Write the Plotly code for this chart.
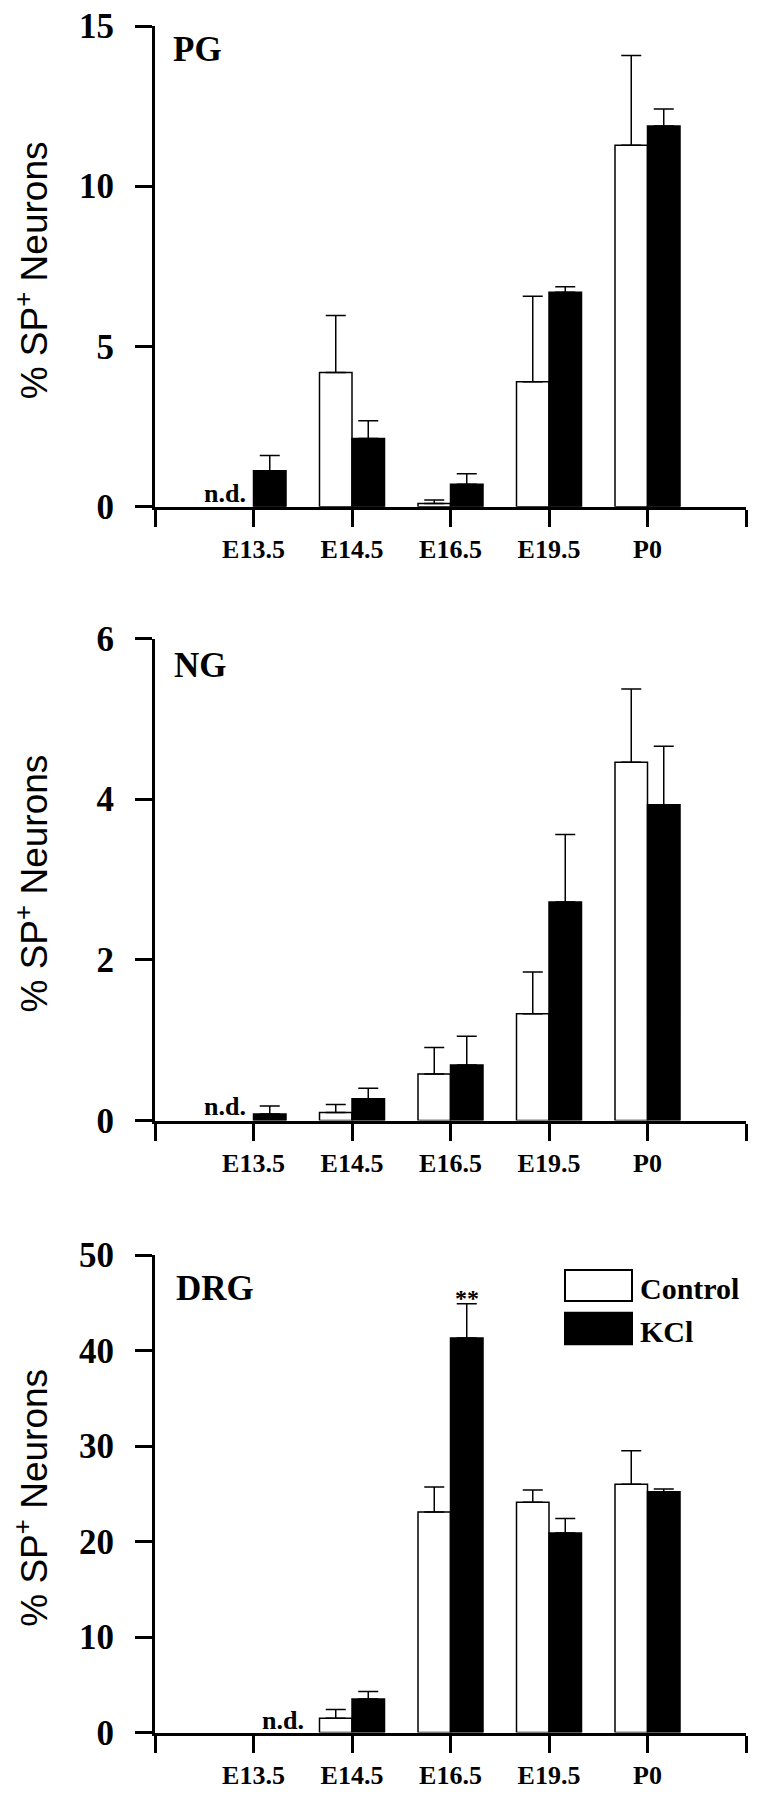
import plotly.graph_objects as go
from plotly.subplots import make_subplots

# ---------------- data ----------------
categories = ["E13.5", "E14.5", "E16.5", "E19.5", "P0"]
positions = [1, 2, 3, 4, 5]

pg_control = [None, 4.19, 0.10, 3.90, 11.28]
pg_control_err = [None, 1.78, 0.11, 2.67, 2.80]
pg_kcl = [1.12, 2.13, 0.70, 6.69, 11.88]
pg_kcl_err = [0.48, 0.55, 0.33, 0.17, 0.53]

ng_control = [None, 0.10, 0.58, 1.33, 4.46]
ng_control_err = [None, 0.10, 0.33, 0.52, 0.91]
ng_kcl = [0.08, 0.27, 0.69, 2.72, 3.93]
ng_kcl_err = [0.10, 0.13, 0.36, 0.84, 0.73]

drg_control = [None, 1.5, 23.1, 24.1, 26.0]
drg_control_err = [None, 0.9, 2.6, 1.3, 3.5]
drg_kcl = [None, 3.5, 41.3, 20.9, 25.2]
drg_kcl_err = [None, 0.8, 3.6, 1.5, 0.3]

panel_names = ["PG", "NG", "DRG"]
y_max = [15, 6, 50]
y_step = [5, 2, 10]
nd_position = [0.945, 0.945, 1.53]   # right edge of "n.d." label (x units)

panels = [
    (pg_control, pg_control_err, pg_kcl, pg_kcl_err),
    (ng_control, ng_control_err, ng_kcl, ng_kcl_err),
    (drg_control, drg_control_err, drg_kcl, drg_kcl_err),
]

# ---------------- layout geometry (page pixels) ----------------
PAGE_W, PAGE_H = 763, 1800
OFF = 8                      # default body margin of the html page
FW, FH = PAGE_W - OFF, PAGE_H - OFF


def px(x):
    return (x - OFF) / FW


def py(y):
    return 1 - (y - OFF) / FH


x_dom = [px(155), px(746)]
y_pix = [(26, 506.7), (638.5, 1120.5), (1255, 1732.5)]  # (top, bottom)
y_doms = [[py(b), py(t)] for t, b in y_pix]
label_caps = [49.5, 665, 1288.5]
label_left = [171, 172, 174]
nd_centers = [493.5, 1106.5, 1720]

BARGAP = 0.34
serif = "Liberation Serif"
sans = "Liberation Sans"

fig = make_subplots(rows=3, cols=1)

for i, (c, ce, k, ke) in enumerate(panels):
    r = i + 1
    fig.add_trace(go.Bar(
        x=positions, y=c, name="Control", showlegend=False,
        marker=dict(color="white", line=dict(color="black", width=1.5)),
        error_y=dict(type="data", array=[e if e is not None else 0 for e in ce],
                     arrayminus=[0] * len(ce), symmetric=False,
                     color="black", thickness=1.5, width=10),
    ), row=r, col=1)
    fig.add_trace(go.Bar(
        x=positions, y=k, name="KCl", showlegend=False,
        marker=dict(color="black", line=dict(color="black", width=1.5)),
        error_y=dict(type="data", array=[e if e is not None else 0 for e in ke],
                     arrayminus=[0] * len(ke), symmetric=False,
                     color="black", thickness=1.5, width=10),
    ), row=r, col=1)

fig.update_layout(template="none", barmode="group", bargap=BARGAP, bargroupgap=0)

for i in range(3):
    sfx = "" if i == 0 else str(i + 1)
    fig.layout["xaxis" + sfx].update(
        domain=x_dom, range=[0, 6], automargin=False,
        tickmode="array", tickvals=positions, ticktext=categories,
        showline=True, linecolor="black", linewidth=3,
        ticks="outside", ticklen=17, tickwidth=3, tickcolor="black",
        minor=dict(tickmode="array", tickvals=[0, 6], ticks="outside",
                   ticklen=17, tickwidth=3, tickcolor="black", showgrid=False),
        showgrid=False, zeroline=False,
        tickfont=dict(family=serif, size=26, color="black", weight="bold"),
        ticklabelstandoff=0, ticklabeloverflow="allow",
    )
    fig.layout["yaxis" + sfx].update(
        domain=y_doms[i], range=[0, y_max[i]], automargin=False,
        tickmode="linear", tick0=0, dtick=y_step[i],
        showline=True, linecolor="black", linewidth=3,
        ticks="outside", ticklen=17, tickwidth=3, tickcolor="black",
        showgrid=False, zeroline=False,
        tickfont=dict(family=serif, size=35, color="black", weight="bold"),
        ticklabelstandoff=14, ticklabeloverflow="allow",
    )

annotations = []
for i in range(3):
    t, b = y_pix[i]
    # y-axis title
    annotations.append(dict(
        text="% SP<sup>+</sup> Neurons", xref="paper", yref="paper",
        x=px(32), y=py((t + b) / 2 + 4), xanchor="center", yanchor="middle",
        textangle=-90, showarrow=False,
        font=dict(family=sans, size=37, color="black"),
    ))
    # panel label
    annotations.append(dict(
        text=panel_names[i], xref="paper", yref="paper",
        x=px(label_left[i]), y=py(label_caps[i]),
        xanchor="left", yanchor="middle", showarrow=False,
        font=dict(family=serif, size=35, color="black", weight="bold"),
    ))
    # n.d.
    xref = "x" if i == 0 else "x" + str(i + 1)
    annotations.append(dict(
        text="n.d.", xref=xref, yref="paper",
        x=nd_position[i], y=py(nd_centers[i]),
        xanchor="right", yanchor="middle", showarrow=False,
        font=dict(family=serif, size=26, color="black", weight="bold"),
    ))

# significance marker above E16.5 KCl (DRG)
sig_idx = 2
annotations.append(dict(
    text="**", xref="x3", yref="y3",
    x=positions[sig_idx] + (1 - BARGAP) / 4,
    y=drg_kcl[sig_idx] + drg_kcl_err[sig_idx],
    xanchor="center", yanchor="bottom", yshift=-9, showarrow=False,
    font=dict(family=serif, size=24, color="black", weight="bold"),
))

# legend (DRG panel)
legend_items = [("Control", "white", 1270, 1301), ("KCl", "black", 1312.7, 1344.3)]
shapes = []
for name, col, top, bot in legend_items:
    shapes.append(dict(
        type="rect", xref="paper", yref="paper",
        x0=px(565), x1=px(632), y0=py(bot), y1=py(top),
        fillcolor=col, line=dict(color="black", width=2),
    ))
    annotations.append(dict(
        text=name, xref="paper", yref="paper",
        x=px(638), y=py((top + bot) / 2 + 3),
        xanchor="left", yanchor="middle", showarrow=False,
        font=dict(family=serif, size=30, color="black", weight="bold"),
    ))

fig.update_layout(
    width=FW, height=FH, autosize=False,
    margin=dict(l=0, r=0, t=0, b=0, pad=0),
    paper_bgcolor="white", plot_bgcolor="white",
    annotations=annotations, shapes=shapes,
)

fig.write_html("out.html")
